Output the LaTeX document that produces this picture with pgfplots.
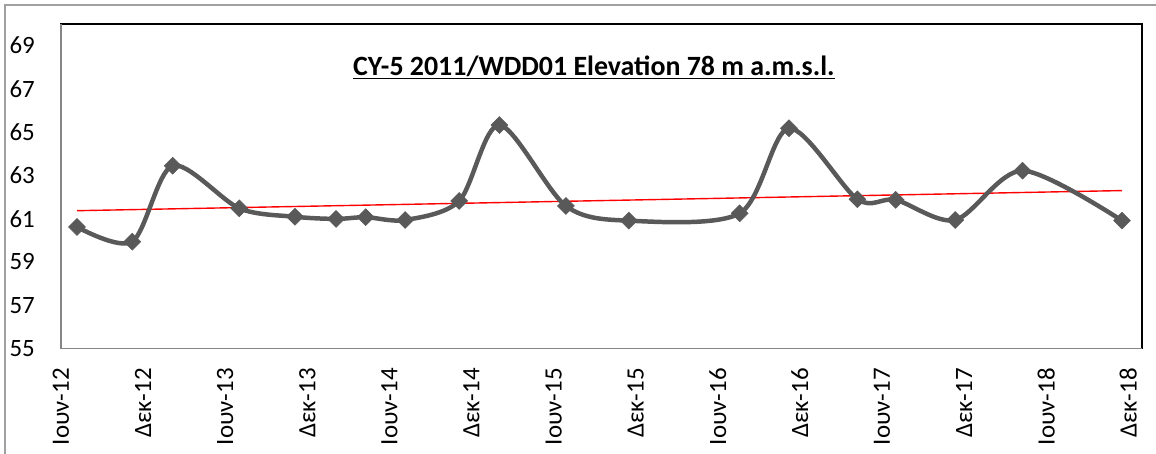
\documentclass[border=0pt]{standalone}
\usepackage{pgfplots}
\pgfplotsset{compat=1.18}
\usepackage{fontspec}
\setmainfont{Carlito}
\definecolor{lineg}{RGB}{89,89,89}
\definecolor{axg}{RGB}{134,134,134}
\definecolor{frameg}{RGB}{160,160,160}
\begin{document}
\begin{tikzpicture}
\begin{axis}[
  at={(0,0)}, anchor=south west,
  scale only axis, width=1081bp, height=324.5bp,
  xmin=0, xmax=79, ymin=55, ymax=70,
  xtick={0,6,12,18,24,30,36,42,48,54,60,66,72,78},
  xticklabels={Ιουν-12,Δεκ-12,Ιουν-13,Δεκ-13,Ιουν-14,Δεκ-14,Ιουν-15,Δεκ-15,Ιουν-16,Δεκ-16,Ιουν-17,Δεκ-17,Ιουν-18,Δεκ-18},
  ytick={55,57,59,61,63,65,67,69},
  major tick length=0pt,
  /pgf/number format/assume math mode=true,
  ticklabel style={font=\fontsize{25}{25}\selectfont, inner sep=0pt},
  yticklabel style={anchor=east, xshift=-26bp},
  xticklabel style={rotate=90, anchor=east, xshift=-19.5bp},
  axis line style={black, line width=1.3pt},
  clip=false,
]
\addplot[red, line width=1.4pt] coordinates {(1.17,61.37) (77.54,62.30)};
\addplot[lineg, line width=4.5pt, smooth, tension=0.5,
  mark=square*, mark size=6bp, mark options={rotate=45, solid, line width=0.5pt, fill=lineg}]
  coordinates {
  (1.17,60.62) (5.21,59.94) (8.16,63.45) (13.03,61.48) (17.1,61.09)
  (20.1,60.99) (22.27,61.07) (25.15,60.94) (29.1,61.82) (32.04,65.33)
  (36.9,61.59) (41.5,60.91) (49.6,61.25) (53.2,65.18) (58.2,61.9)
  (61.0,61.87) (65.35,60.94) (70.27,63.22) (77.54,60.91)
  };
\draw[axg, line width=1.3pt] (rel axis cs:0,1) -- (rel axis cs:0,0) -- (rel axis cs:1,0);
\node[anchor=base, font=\fontsize{28}{28}\selectfont\bfseries] at (rel axis cs:0.493,0.84) {\underline{CY-5 2011/WDD01 Elevation 78 m a.m.s.l.}};
\end{axis}
\draw[frameg, line width=1.2pt] (-56bp,-105.5bp) -- (-56bp,343.5bp) -- (1095bp,343.5bp);
\pgfresetboundingbox
\path[use as bounding box] (-61bp,-105.5bp) rectangle (1095bp,348.5bp);
\end{tikzpicture}
\end{document}
